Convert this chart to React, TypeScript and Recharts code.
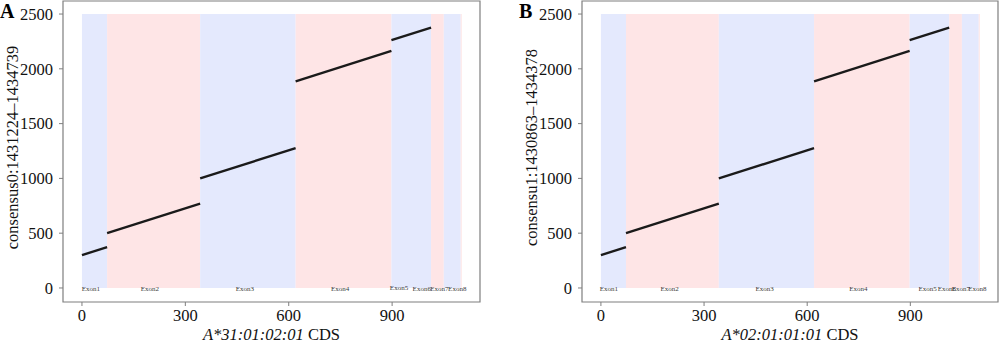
import { ComposedChart, Line, ReferenceArea, Scatter, XAxis, YAxis } from 'recharts';

const exonNames = ['Exon1', 'Exon2', 'Exon3', 'Exon4', 'Exon5', 'Exon6', 'Exon7', 'Exon8'];
const exonStart = [0, 73, 343, 620, 898, 1013, 1050, 1099];
const exonEnd = [73, 343, 620, 898, 1013, 1050, 1099, 1102];
const exonFill = ['#e4e9fd', '#fee5e6', '#e4e9fd', '#fee5e6', '#e4e9fd', '#fee5e6', '#e4e9fd', '#fee5e6'];

// aligned CDS segments (x = CDS position, y = consensus position)
const segX0 = [0, 73, 343, 620, 898];
const segX1 = [73, 343, 620, 898, 1013];
const segY0 = [300, 500, 1000, 1886, 2262];
const segY1 = [373, 770, 1277, 2164, 2376];

const labelXA = [26, 197, 473, 749, 920, 986, 1037, 1089];
const labelYA = [0, 0, 0, 0, 18, 0, 0, 0];
const labelXB = [23, 200, 476, 749, 950, 1006, 1047, 1095];
const labelYB = [0, 0, 0, 0, 0, 0, 0, 0];

const xTicks = [0, 300, 600, 900];
const yTicks = [0, 500, 1000, 1500, 2000, 2500];
const xDomain = [-55, 1155];
const yDomain = [-128, 2619];

const FONT = '"Liberation Serif", "Times New Roman", serif';

type PanelProps = {
  letter: string;
  yLabel: string;
  allele: string;
  labelX: number[];
  labelY: number[];
  yAxisWidth: number;
  rightMargin: number;
};

const Panel = ({ letter, yLabel, allele, labelX, labelY, yAxisWidth, rightMargin }: PanelProps) => {
  const labels = exonNames.map((name, i) => ({ x: labelX[i], y: labelY[i], name }));
  return (
    <div style={{ position: 'relative', width: 500, height: 344 }}>
      <div
        style={{
          position: 'absolute',
          left: yAxisWidth - 63,
          top: 0,
          fontFamily: FONT,
          fontWeight: 'bold',
          fontSize: 20,
          lineHeight: '22px',
          color: '#000',
          zIndex: 2,
        }}
      >
        {letter}
      </div>
      <ComposedChart
        width={500}
        height={344}
        margin={{ top: 1, right: rightMargin, bottom: 0, left: 0 }}
        style={{ fontFamily: FONT }}
      >
        <XAxis
          dataKey="x"
          type="number"
          domain={xDomain}
          ticks={xTicks}
          allowDataOverflow
          height={42}
          axisLine={false}
          tickSize={4}
          tickMargin={3}
          tickLine={{ stroke: '#7f7f7f' }}
          tick={{ fontSize: 16.5, fill: '#111', fontFamily: FONT }}
          label={{
            content: (p: any) => {
              const vb = p.viewBox;
              return (
                <text
                  x={vb.x + vb.width / 2}
                  y={vb.y + 38}
                  textAnchor="middle"
                  fontSize={16.5}
                  fill="#111"
                  fontFamily={FONT}
                >
                  <tspan fontStyle="italic">{allele}</tspan> CDS
                </text>
              );
            },
          }}
        />
        <YAxis
          dataKey="y"
          type="number"
          domain={yDomain}
          ticks={yTicks}
          allowDataOverflow
          width={yAxisWidth}
          axisLine={false}
          tickSize={4}
          tickMargin={6}
          tickLine={{ stroke: '#7f7f7f' }}
          tick={{ fontSize: 16.5, fill: '#111', fontFamily: FONT }}
          label={{
            content: (p: any) => {
              const vb = p.viewBox;
              const cx = vb.x + vb.width - 51;
              const cy = vb.y + vb.height / 2 - 4;
              return (
                <text
                  x={cx}
                  y={cy}
                  transform={`rotate(-90, ${cx}, ${cy})`}
                  textAnchor="middle"
                  dominantBaseline="central"
                  fontSize={16.5}
                  fill="#111"
                  fontFamily={FONT}
                >
                  {yLabel}
                </text>
              );
            },
          }}
        />
        {exonNames.map((name, i) => (
          <ReferenceArea
            key={name}
            x1={exonStart[i]}
            x2={exonEnd[i]}
            y1={0}
            y2={2500}
            fill={exonFill[i]}
            fillOpacity={1}
            stroke="none"
          />
        ))}
        {segX0.map((x0, i) => (
          <Line
            key={i}
            data={[
              { x: x0, y: segY0[i] },
              { x: segX1[i], y: segY1[i] },
            ]}
            dataKey="y"
            stroke="#1a1a1a"
            strokeWidth={2.4}
            dot={false}
            activeDot={false}
            isAnimationActive={false}
          />
        ))}
        <Scatter
          data={labels}
          dataKey="y"
          isAnimationActive={false}
          shape={(p: any) => (
            <text
              x={p.cx}
              y={p.cy + 1.5}
              textAnchor="middle"
              dominantBaseline="central"
              fontSize={7}
              fill="#3a3a3a"
              fontFamily={FONT}
            >
              {p.payload.name}
            </text>
          )}
        />
        <ReferenceArea
          x1={xDomain[0]}
          x2={xDomain[1]}
          y1={yDomain[0]}
          y2={yDomain[1]}
          fill="none"
          stroke="#7f7f7f"
          strokeWidth={1.2}
        />
      </ComposedChart>
    </div>
  );
}

export default function App() {
  return (
    <div style={{ position: 'absolute', left: 0, top: 0, width: 1000, height: 344, display: 'flex', background: '#fff' }}>
      <Panel
        letter="A"
        yLabel="consensus0:1431224–1434739"
        allele="A*31:01:02:01"
        labelX={labelXA}
        labelY={labelYA}
        yAxisWidth={63}
        rightMargin={20}
      />
      <Panel
        letter="B"
        yLabel="consensu1:1430863–1434378"
        allele="A*02:01:01:01"
        labelX={labelXB}
        labelY={labelYB}
        yAxisWidth={82}
        rightMargin={2}
      />
    </div>
  );
}
